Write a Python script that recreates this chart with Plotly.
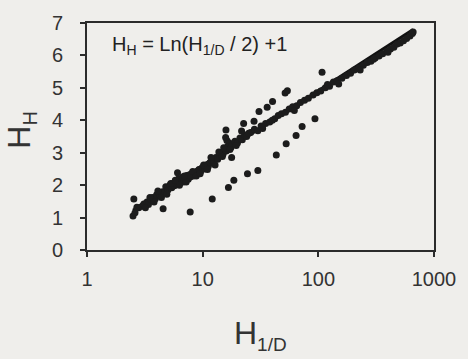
import numpy as np
import plotly.graph_objects as go

# Observed points along the main trend (H_1/D, H_H)
band_x = [2.5, 2.6, 2.8, 3.0, 3.1, 3.3, 3.4, 3.6, 3.7, 3.9, 4.0, 4.2, 4.3, 4.5, 4.7,
          4.8, 5.0, 5.2, 5.4, 5.5, 5.7, 5.9, 6.0, 6.2, 6.4, 6.6, 6.8, 7.0, 7.3, 7.5,
          7.8, 8.0, 8.3, 8.6, 9.0, 9.3, 9.6, 10.0, 10.4, 10.8, 11.2, 11.6, 12.0, 12.5,
          13.0, 13.5, 14.0, 14.5, 15.0, 15.5, 16.0, 16.5, 17.0, 17.5, 18.0, 19.0, 20.0,
          21.0, 22.0, 23.0, 24.0, 26.0, 28.0, 30.0, 32.0, 35.0, 38.0, 42.0, 45.0, 48.0,
          52.0, 56.0, 60.0, 65.0, 70.0, 76.0, 82.0, 90.0, 97.0, 105, 115, 125, 135, 145,
          160, 175, 190, 205, 225, 245, 265, 285, 310, 335, 360, 390, 420, 450, 480, 510,
          545, 580, 620, 650, 660]
band_y = [1.05, 1.15, 1.30, 1.35, 1.42, 1.48, 1.40, 1.55, 1.62, 1.58, 1.70, 1.75, 1.66, 1.80, 1.78,
          1.95, 1.85, 2.00, 1.92, 2.05, 1.98, 2.10, 2.02, 2.20, 2.08, 2.15, 2.10, 2.22, 2.30, 2.18,
          2.25, 2.35, 2.28, 2.40, 2.38, 2.48, 2.42, 2.55, 2.50, 2.62, 2.58, 2.70, 2.75, 2.68,
          2.85, 2.80, 2.92, 3.00, 2.95, 3.10, 3.05, 3.20, 3.30, 3.15, 3.25, 3.35, 3.30,
          3.45, 3.40, 3.55, 3.50, 3.62, 3.72, 3.68, 3.82, 3.90, 3.95, 4.05, 4.15, 4.20,
          4.25, 4.35, 4.42, 4.45, 4.55, 4.62, 4.68, 4.78, 4.85, 4.90, 5.00, 5.05, 5.18, 5.22,
          5.30, 5.38, 5.45, 5.55, 5.62, 5.70, 5.78, 5.82, 5.92, 5.98, 6.05, 6.12, 6.20, 6.25, 6.35, 6.38,
          6.45, 6.52, 6.60, 6.68, 6.72]

# Additional points scattered just either side of the trend
near_x = [2.7, 3.2, 3.5, 3.8, 4.1, 4.4, 4.9, 5.3, 5.8, 6.3, 6.7, 7.2, 7.7, 8.2, 8.8,
          9.5, 10.2, 11.0, 11.8, 12.8, 13.8, 14.8, 15.2, 16.2, 17.2, 19.5, 25.0, 33.0,
          40.0, 62.0, 120, 150, 230, 300, 400]
near_y = [1.32, 1.30, 1.62, 1.48, 1.82, 1.62, 1.72, 2.05, 2.15, 2.00, 2.25, 2.10, 2.32, 2.42, 2.28,
          2.35, 2.62, 2.48, 2.85, 2.62, 3.02, 2.88, 3.15, 3.38, 3.10, 3.22, 3.60, 3.75,
          4.00, 4.30, 5.10, 5.12, 5.55, 5.88, 6.10]

# Points lying off the trend
off_x = [2.54, 6.06, 6.97, 15.8, 15.9, 21.7, 22.6, 27.8, 30.7, 36.1, 40.2, 51.6, 54.0, 107.7,
         4.55, 7.8, 12.1, 16.7, 17.8, 18.6, 24.4, 30.0, 43.3, 52.7, 64.2, 72.4, 93.5]
off_y = [1.57, 2.38, 2.28, 3.47, 3.70, 3.67, 3.90, 3.97, 4.27, 4.40, 4.58, 4.84, 4.91, 5.48,
         1.27, 1.17, 1.57, 1.93, 2.85, 2.15, 2.35, 2.45, 2.93, 3.28, 3.53, 3.81, 4.05]

# Fitted relation H_H = ln(H_1/D / 2) + 1
fit_x = np.logspace(np.log10(2.5), np.log10(660), 60)
fit_y = np.log(fit_x / 2) + 1

x_ticks = [1, 10, 100, 1000]
y_ticks = [0, 1, 2, 3, 4, 5, 6, 7]

ink = "#2b2b2b"
bg = "#efeeeb"
font = "Liberation Sans, Arial, sans-serif"

fig = go.Figure()
fig.add_trace(go.Scatter(x=fit_x, y=fit_y, mode="lines",
                         line=dict(color="#111111", width=3), hoverinfo="skip"))
fig.add_trace(go.Scatter(x=band_x + near_x + off_x, y=band_y + near_y + off_y,
                         mode="markers",
                         marker=dict(color="#1c1c1c", size=7, line=dict(width=0))))

axis_common = dict(showgrid=False, zeroline=False, showline=True, mirror=True,
                   linecolor=ink, linewidth=2, ticks="outside", ticklen=5,
                   tickwidth=1.5, tickcolor=ink,
                   tickfont=dict(family=font, size=20, color="#333333"))

fig.update_xaxes(type="log", range=[0, 3], tickvals=x_ticks,
                 ticktext=[str(v) for v in x_ticks], ticklabelstandoff=5,
                 **axis_common)
fig.update_yaxes(range=[0, 7], tickvals=y_ticks, ticklabelstandoff=13,
                 **axis_common)

fig.add_annotation(xref="paper", yref="paper", x=0.066, y=0.9,
                   xanchor="left", yanchor="middle", showarrow=False,
                   text="H<sub>H</sub> = Ln(H<sub>1/D</sub> / 2) +1",
                   font=dict(family=font, size=20, color="#222222"))
fig.add_annotation(xref="paper", yref="paper", x=0.5, y=0, yshift=-85,
                   xanchor="center", yanchor="middle", showarrow=False,
                   text="H<sub><span style='font-size:19px'>1/D</span></sub>",
                   font=dict(family=font, size=32, color="#333333"))
fig.add_annotation(xref="paper", yref="paper", x=0, xshift=-66, y=0.53,
                   xanchor="center", yanchor="middle", showarrow=False, textangle=-90,
                   text="H<sub><span style='font-size:20px'>H</span></sub>",
                   font=dict(family=font, size=32, color="#333333"))

fig.update_layout(width=468, height=359, showlegend=False,
                  margin=dict(l=87, r=31, t=14, b=109),
                  paper_bgcolor=bg, plot_bgcolor=bg)

fig.write_html("out.html")
